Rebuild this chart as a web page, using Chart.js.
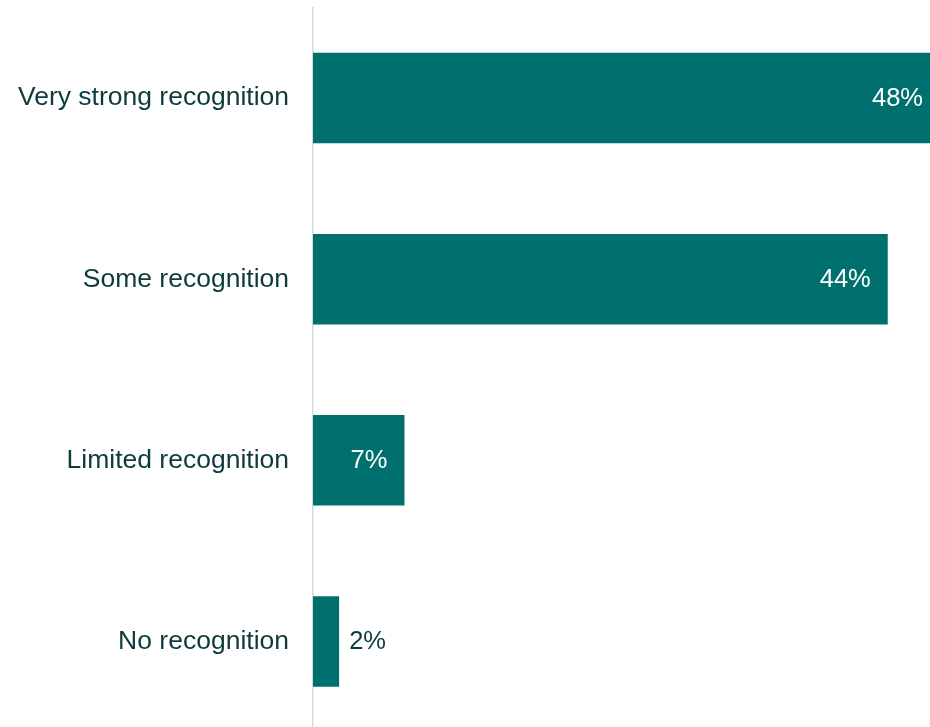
<!DOCTYPE html>
<html>
<head>
<meta charset="utf-8">
<script src="https://cdn.jsdelivr.net/npm/chart.js@4/dist/chart.umd.min.js"></script>
<style>
  html, body { margin: 0; padding: 0; background: #fff; overflow: hidden; }
  #wrap { position: relative; width: 940px; height: 732px; }
</style>
</head>
<body>
<div id="wrap"><canvas id="chart"></canvas></div>
<script>
const categories = ["Very strong recognition", "Some recognition", "Limited recognition", "No recognition"];
const shares = [48, 44, 7, 2];

const BAR_COLOR = "#00706e";
const TEXT_COLOR = "#0e3b3b";
const FONT = "'Liberation Sans', Arial, sans-serif";

// value labels: white inside the bar end, dark just outside when the bar is too short
const valueLabels = {
  id: "valueLabels",
  afterDatasetsDraw(chart) {
    const ctx = chart.ctx;
    const meta = chart.getDatasetMeta(0);
    ctx.save();
    ctx.font = "25.5px " + FONT;
    ctx.textBaseline = "middle";
    meta.data.forEach((bar, i) => {
      const text = shares[i] + "%";
      const w = ctx.measureText(text).width;
      const barLen = bar.x - bar.base;
      if (barLen > w + 24) {
        ctx.fillStyle = "#ffffff";
        ctx.textAlign = "right";
        ctx.fillText(text, bar.x - 17, bar.y + 1);
      } else {
        ctx.fillStyle = TEXT_COLOR;
        ctx.textAlign = "left";
        ctx.fillText(text, bar.x + 10, bar.y + 1);
      }
    });
    ctx.restore();
  }
};

new Chart(document.getElementById("chart"), {
  type: "bar",
  data: {
    labels: categories,
    datasets: [{
      data: shares,
      backgroundColor: BAR_COLOR,
      borderWidth: 0,
      barPercentage: 0.5,
      categoryPercentage: 1.0
    }]
  },
  options: {
    indexAxis: "y",
    responsive: true,
    maintainAspectRatio: false,
    animation: false,
    layout: { padding: { top: 7.5, right: 0, bottom: 0, left: 0 } },
    plugins: {
      legend: { display: false },
      tooltip: { enabled: false }
    },
    scales: {
      x: {
        display: false,
        min: 0,
        max: 48
      },
      y: {
        grid: { display: false, drawTicks: false },
        border: { display: true, color: "#d9d9d9", width: 1.5 },
        ticks: {
          color: TEXT_COLOR,
          padding: 24,
          font: { family: FONT, size: 26.5 }
        },
        afterFit(scale) {
          // fixed label column, and no extra room above/below for the end labels
          scale.width = 313;
          scale.paddingTop = 0;
          scale.paddingBottom = 0;
        }
      }
    }
  },
  plugins: [valueLabels]
});
</script>
</body>
</html>
